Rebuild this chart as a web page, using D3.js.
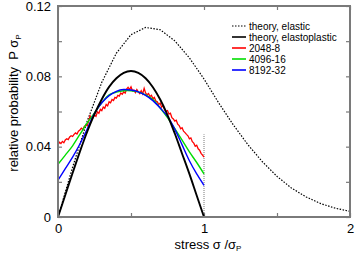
<!DOCTYPE html>
<html><head><meta charset="utf-8">
<script src="https://cdn.jsdelivr.net/npm/d3@7"></script>
<style>body{margin:0;background:#fff}svg{display:block}text{font-family:"Liberation Sans",Arial,sans-serif;fill:#000}</style>
</head><body><svg id="c" width="357" height="253"></svg>
<script>
// ---- data ----
const xTicks = [0, 0.5, 1, 1.5, 2];
const xTickLabels = ["0", "", "1", "", "2"];
const yTicks = [0, 0.02, 0.04, 0.06, 0.08, 0.1, 0.12];
const yTickLabels = ["0", "", "0.04", "", "0.08", "", "0.12"];

const elasticX = [0,0.1,0.2,0.3,0.4,0.5,0.6,0.7,0.8,0.9,1.0,1.1,1.2,1.3,1.4,1.5,1.6,1.7,1.8,1.9,2.0];
const elasticY = [0,0.0283,0.0545,0.0766,0.0932,0.1037,0.1078,0.1065,0.1002,0.0905,0.0785,0.0650,0.0525,0.0412,0.0314,0.0231,0.0164,0.0114,0.0076,0.0050,0.0032];

const plasticX = [0,0.05,0.1,0.15,0.2,0.25,0.3,0.35,0.4,0.45,0.5,0.55,0.6,0.65,0.7,0.75,0.8,0.85,0.9,0.95,1.0];
const plasticY = [0,0.0125,0.025,0.0372,0.0485,0.0585,0.067,0.074,0.0789,0.082,0.0830,0.0820,0.0789,0.0738,0.0668,0.0580,0.0475,0.0360,0.0245,0.0122,0];

const red2048X = [0,0.01,0.02,0.03,0.04,0.05,0.06,0.07,0.08,0.09,0.1,0.11,0.12,0.13,0.14,0.15,0.16,0.17,0.18,0.19,0.2,0.21,0.22,0.23,0.24,0.25,0.26,0.27,0.28,0.29,0.3,0.31,0.32,0.33,0.34,0.35,0.36,0.37,0.38,0.39,0.4,0.41,0.42,0.43,0.44,0.45,0.46,0.47,0.48,0.49,0.5,0.51,0.52,0.53,0.54,0.55,0.56,0.57,0.58,0.59,0.6,0.61,0.62,0.63,0.64,0.65,0.66,0.67,0.68,0.69,0.7,0.71,0.72,0.73,0.74,0.75,0.76,0.77,0.78,0.79,0.8,0.81,0.82,0.83,0.84,0.85,0.86,0.87,0.88,0.89,0.9,0.91,0.92,0.93,0.94,0.95,0.96,0.97,0.98,0.99,1.0];
const red2048Y = [0.0410,0.0425,0.0418,0.0430,0.0422,0.0438,0.0445,0.0440,0.0455,0.0462,0.0458,0.0470,0.0478,0.0472,0.0488,0.0495,0.0505,0.0498,0.0515,0.0522,0.0518,0.0545,0.0575,0.0552,0.0565,0.0580,0.0572,0.0598,0.0590,0.0612,0.0605,0.0625,0.0618,0.0640,0.0632,0.0655,0.0650,0.0668,0.0662,0.0680,0.0676,0.0692,0.0688,0.0705,0.0698,0.0712,0.0705,0.0728,0.0738,0.0725,0.0740,0.0718,0.0722,0.0708,0.0725,0.0712,0.0702,0.0718,0.0700,0.0732,0.0705,0.0695,0.0702,0.0685,0.0692,0.0672,0.0680,0.0660,0.0655,0.0640,0.0648,0.0625,0.0632,0.0610,0.0602,0.0605,0.0585,0.0590,0.0565,0.0558,0.0545,0.0550,0.0528,0.0520,0.0502,0.0508,0.0488,0.0480,0.0470,0.0462,0.0445,0.0450,0.0428,0.0420,0.0402,0.0408,0.0388,0.0380,0.0362,0.0352,0.0340];

const green4096X = [0,0.05,0.1,0.15,0.2,0.25,0.3,0.35,0.4,0.45,0.5,0.55,0.6,0.65,0.7,0.75,0.8,0.85,0.9,0.95,1.0];
const green4096Y = [0.030,0.0352,0.0405,0.0470,0.0535,0.0592,0.0650,0.0695,0.0710,0.0718,0.0718,0.0712,0.0695,0.0668,0.0620,0.0565,0.0502,0.0437,0.0370,0.0310,0.0245];

const blue8192X = [0,0.05,0.1,0.15,0.2,0.25,0.3,0.35,0.4,0.45,0.5,0.55,0.6,0.65,0.7,0.75,0.8,0.85,0.9,0.95,1.0];
const blue8192Y = [0.021,0.0275,0.0340,0.0415,0.0500,0.0590,0.0650,0.0690,0.0715,0.0725,0.0722,0.0712,0.0692,0.0662,0.0620,0.0572,0.0500,0.0410,0.0320,0.0245,0.0180];

const cutLineX = [1, 1];
const cutLineY = [0, 0.047];

const legendLabels = ["theory, elastic", "theory, elastoplastic", "2048-8", "4096-16", "8192-32"];
const legendColors = ["#000", "#000", "#ff0000", "#00dd00", "#0000ff"];

// ---- chart ----
const svg = d3.select("#c");
const L = 58, R = 350, T = 6, B = 217;
const x = d3.scaleLinear().domain([0, 2]).range([L, R]);
const y = d3.scaleLinear().domain([0, 0.12]).range([B, T]);
const frameColor = "#7a7a7a";

const axB = svg.append("g").attr("transform", `translate(0,${B})`)
  .call(d3.axisBottom(x).tickValues(xTicks).tickSize(-4).tickPadding(7).tickFormat((d,i)=>xTickLabels[i]));
const axT = svg.append("g").attr("transform", `translate(0,${T})`)
  .call(d3.axisTop(x).tickValues(xTicks).tickSize(-4).tickFormat(""));
const axL = svg.append("g").attr("transform", `translate(${L},0)`)
  .call(d3.axisLeft(y).tickValues(yTicks).tickSize(-4).tickPadding(7).tickFormat((d,i)=>yTickLabels[i]));
const axR = svg.append("g").attr("transform", `translate(${R},0)`)
  .call(d3.axisRight(y).tickValues(yTicks).tickSize(-4).tickFormat(""));
[axB, axT, axL, axR].forEach(a => {
  a.select(".domain").remove();
  a.selectAll(".tick line").attr("stroke", frameColor).attr("stroke-width", 1.2);
  a.selectAll("text").style("font-size", "13px").style("font-family", '"Liberation Sans",Arial,sans-serif').attr("fill", "#000");
});

const line = (xs, ys) => d3.line().x((d,i)=>x(xs[i])).y(d=>y(d))(ys);

svg.append("path").attr("d", line(cutLineX, cutLineY)).attr("fill","none")
  .attr("stroke","#555").attr("stroke-width",0.8).attr("stroke-dasharray","1,1");

svg.append("path").attr("d", line(elasticX, elasticY)).attr("fill","none")
  .attr("stroke","#000").attr("stroke-width",1.2).attr("stroke-dasharray","1.5,1.5");

const gen = d3.line().curve(d3.curveCatmullRom);
function smooth(xs, ys){ return gen(ys.map((d,i)=>[x(xs[i]), y(d)])); }

svg.append("path").attr("d", line(red2048X, red2048Y)).attr("fill","none").attr("stroke","#ff0000").attr("stroke-width",1.3);
svg.append("path").attr("d", smooth(green4096X, green4096Y)).attr("fill","none").attr("stroke","#00dd00").attr("stroke-width",1.4);
svg.append("path").attr("d", smooth(blue8192X, blue8192Y)).attr("fill","none").attr("stroke","#0000ff").attr("stroke-width",1.4);
svg.append("path").attr("d", smooth(plasticX, plasticY)).attr("fill","none").attr("stroke","#000").attr("stroke-width",1.9);

svg.append("rect").attr("x",L).attr("y",T).attr("width",R-L).attr("height",B-T)
  .attr("fill","none").attr("stroke",frameColor).attr("stroke-width",2);

const lg = svg.append("g");
legendLabels.forEach((lab,i)=>{
  const yy = 26 + i*11;
  lg.append("line").attr("x1",232).attr("x2",246).attr("y1",yy).attr("y2",yy)
    .attr("stroke",legendColors[i]).attr("stroke-width", i===0?1.2:1.6)
    .attr("stroke-dasharray", i===0?"1.5,1.5":null);
  lg.append("text").attr("x",249).attr("y",yy+3.5).style("font-size","10px").text(lab);
});

const xl = svg.append("text").attr("x",208).attr("y",248.5).attr("text-anchor","middle").style("font-size","13px");
xl.append("tspan").text("stress σ /σ");
xl.append("tspan").attr("dy",2.5).style("font-size","8px").text("P");

const yl = svg.append("text").attr("transform","translate(18,103) rotate(-90)").attr("text-anchor","middle")
  .style("font-size","13px").style("white-space","pre");
yl.append("tspan").text("relative probability  P σ");
yl.append("tspan").attr("dy",3).style("font-size","8px").text("P");
</script></body></html>
